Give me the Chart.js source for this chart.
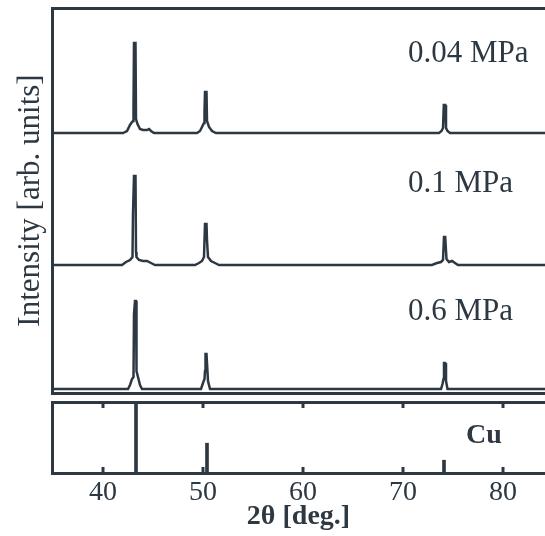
<!DOCTYPE html>
<html>
<head>
<meta charset="utf-8">
<script src="https://cdn.jsdelivr.net/npm/chart.js@4"></script>
<style>
body { margin: 0; background: #fff; overflow: hidden; }
#wrap { position: relative; width: 545px; height: 536px; }
canvas { position: absolute; left: 0; }
</style>
</head>
<body>
<div id="wrap">
  <canvas id="patterns" width="545" height="400" style="top:0"></canvas>
  <canvas id="cuRef" width="545" height="140" style="top:396px"></canvas>
</div>
<script>
// 2theta range shown
const xMin = 34.9, xMax = 84.2;
const xTicks = [40, 50, 60, 70, 80];

// 0.04 MPa pattern (intensity above its own baseline, arb. units)
const tth04 = [35, 42.0, 42.4, 42.7, 42.9, 43.0, 43.05, 43.1, 43.25, 43.3, 43.45, 43.7, 44.0, 44.4, 44.6, 44.8, 45.1,
  49.4, 49.7, 49.95, 50.1, 50.15, 50.2, 50.35, 50.4, 50.6, 50.9, 51.3,
  73.6, 73.85, 74.0, 74.08, 74.22, 74.3, 74.45, 74.7, 84.5];
const int04 = [0, 0, 2, 8, 11, 12, 25, 90, 90, 14, 9, 4, 3, 3, 4, 2, 0,
  0, 2, 7, 10, 22, 41, 41, 12, 6, 2, 0,
  0, 2, 5, 28, 28, 5, 2, 0, 0];

// 0.1 MPa pattern
const tth01 = [35, 41.9, 42.3, 42.7, 42.95, 43.0, 43.1, 43.25, 43.3, 43.35, 43.6, 44.0, 44.4, 44.8, 45.2,
  49.2, 49.6, 49.9, 50.1, 50.2, 50.35, 50.4, 50.5, 50.8, 51.2, 51.6,
  72.9, 73.4, 73.8, 74.0, 74.1, 74.22, 74.35, 74.6, 74.9, 75.2, 75.5, 84.5];
const int01 = [0, 0, 3, 5, 8, 52, 89, 89, 13, 8, 5, 4, 4, 2, 0,
  0, 2, 4, 8, 41, 41, 25, 8, 4, 2, 0,
  0, 2, 3, 5, 28, 28, 6, 3, 4, 2, 0, 0];

// 0.6 MPa pattern
const tth06 = [35, 42.5, 42.7, 42.9, 43.05, 43.1, 43.2, 43.3, 43.35, 43.5, 43.7, 43.9,
  49.8, 50.0, 50.15, 50.2, 50.25, 50.35, 50.4, 50.5, 50.7,
  73.8, 73.95, 74.05, 74.1, 74.2, 74.3, 74.45, 84.5];
const int06 = [0, 0, 4, 10, 12, 75, 88, 88, 18, 12, 4, 0,
  0, 6, 10, 18, 35, 35, 26, 8, 0,
  0, 5, 10, 26, 26, 8, 0, 0];

const pressures = ['0.04 MPa', '0.1 MPa', '0.6 MPa'];
const offsets = [260, 128, 4];

// Cu reference lines
const cuPeaks = [43.3, 50.4, 74.1];
const cuInt = [100, 42, 18];

const ink = '#2d3842';
const serif = "'Liberation Serif', 'Times New Roman', serif";

function toPoints(tth, inten, off) {
  return tth.map((t, i) => ({ x: t, y: inten[i] + off }));
}

function frameAxis(pos, h) {
  return {
    type: 'linear', axis: 'x', position: pos, min: xMin, max: xMax, offset: false,
    ticks: { display: false },
    grid: { display: false, drawTicks: false },
    border: { display: true, color: ink, width: 3 },
    afterFit: s => { s.height = h; }
  };
}

// text labels placed in data coordinates
const labelPlugin = {
  id: 'labels',
  afterDatasetsDraw(chart, args, opts) {
    const { ctx, scales } = chart;
    ctx.save();
    ctx.fillStyle = ink;
    ctx.textBaseline = 'middle';
    ctx.textAlign = 'left';
    opts.items.forEach(it => {
      ctx.font = it.font;
      ctx.fillText(it.text, scales.x.getPixelForValue(it.x), scales.y.getPixelForValue(it.y));
    });
    ctx.restore();
  }
};

// tick marks pointing into the Cu panel
const innerTicks = {
  id: 'innerTicks',
  afterDraw(chart) {
    const { ctx, chartArea: a, scales: { x } } = chart;
    ctx.save();
    ctx.strokeStyle = ink;
    ctx.lineWidth = 3;
    xTicks.forEach(v => {
      const px = x.getPixelForValue(v);
      ctx.beginPath();
      ctx.moveTo(px, a.top); ctx.lineTo(px, a.top + 6);
      ctx.moveTo(px, a.bottom); ctx.lineTo(px, a.bottom - 6);
      ctx.stroke();
    });
    ctx.restore();
  }
};

const series = [[tth04, int04], [tth01, int01], [tth06, int06]];

new Chart(document.getElementById('patterns'), {
  type: 'line',
  data: {
    datasets: series.map((s, i) => ({
      label: pressures[i],
      data: toPoints(s[0], s[1], offsets[i]),
      borderColor: ink,
      borderWidth: 2.5,
      pointRadius: 0,
      tension: 0
    }))
  },
  options: {
    responsive: false,
    animation: false,
    layout: { padding: { top: 8, bottom: 7, left: 0, right: 0 } },
    plugins: {
      legend: { display: false },
      tooltip: { enabled: false },
      labels: {
        items: [
          { text: pressures[0], x: 70.5, y: 339, font: '31px ' + serif },
          { text: pressures[1], x: 70.5, y: 209, font: '31px ' + serif },
          { text: pressures[2], x: 70.5, y: 81, font: '31px ' + serif }
        ]
      }
    },
    scales: {
      x: frameAxis('bottom', 0),
      xTop: frameAxis('top', 0),
      y: {
        min: 0, max: 385, position: 'left',
        ticks: { display: false },
        grid: { display: false, drawTicks: false },
        border: { color: ink, width: 3 },
        title: {
          display: true, text: 'Intensity [arb. units]', color: ink,
          font: { family: serif, size: 31 }, padding: { top: 12, bottom: 0 }
        },
        afterFit: s => { s.width = 52; }
      }
    }
  },
  plugins: [labelPlugin]
});

new Chart(document.getElementById('cuRef'), {
  type: 'bar',
  data: {
    datasets: [{
      label: 'Cu',
      data: cuPeaks.map((p, i) => ({ x: p, y: cuInt[i] })),
      backgroundColor: ink,
      barThickness: 3
    }]
  },
  options: {
    responsive: false,
    animation: false,
    layout: { padding: { top: 6, bottom: 0, left: 0, right: 0 } },
    plugins: {
      legend: { display: false },
      tooltip: { enabled: false },
      labels: { items: [{ text: 'Cu', x: 76.3, y: 52, font: 'bold 28px ' + serif }] }
    },
    scales: {
      x: {
        type: 'linear', position: 'bottom', min: xMin, max: xMax, offset: false,
        ticks: { stepSize: 10, includeBounds: false, color: ink, padding: 3, font: { family: serif, size: 28 } },
        grid: { display: false, drawTicks: false },
        border: { color: ink, width: 3 },
        title: {
          display: true, text: '2θ [deg.]', color: ink,
          font: { family: serif, size: 28, weight: 'bold' }, padding: { top: 0, bottom: 2 }
        },
        afterFit: s => { s.height = 63; }
      },
      xTop: frameAxis('top', 0),
      y: {
        min: 0, max: 100, position: 'left',
        ticks: { display: false },
        grid: { display: false, drawTicks: false },
        border: { color: ink, width: 3 },
        afterFit: s => { s.width = 52; }
      }
    }
  },
  plugins: [labelPlugin, innerTicks]
});
</script>
</body>
</html>
